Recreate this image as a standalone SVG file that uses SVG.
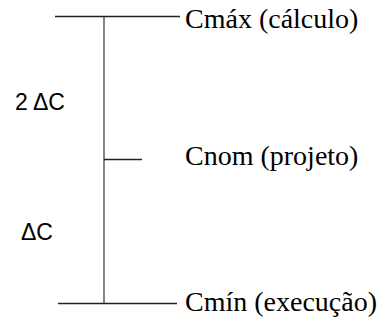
<svg xmlns="http://www.w3.org/2000/svg" width="379" height="322" viewBox="0 0 379 322">
<style>
.h{stroke:#222;stroke-width:1.3;fill:none}
.v{stroke:#666;stroke-width:1.6;fill:none}
.lbl{font-family:"Liberation Serif","Times New Roman",serif;font-size:28px;fill:#000}
.dl{font-family:"Liberation Sans",Arial,sans-serif;font-size:23px;fill:#000}
</style>
<rect width="379" height="322" fill="#fff"/>
<g id="connectors">
<line class="v" x1="104" y1="16.5" x2="104" y2="303.5"/>
<line class="h" x1="55" y1="16.5" x2="180" y2="16.5"/>
<line class="h" x1="104" y1="159.5" x2="142" y2="159.5"/>
<line class="h" x1="58" y1="303.5" x2="177" y2="303.5"/>
</g>
<g id="cmax"><text class="lbl" x="185" y="28">Cmáx (cálculo)</text></g>
<g id="cnom"><text class="lbl" x="185" y="165">Cnom (projeto)</text></g>
<g id="cmin"><text class="lbl" x="185" y="311">Cmín (execução)</text></g>
<g id="d2"><text class="dl" x="15" y="110">2 ΔC</text></g>
<g id="d1"><text class="dl" x="21" y="240">ΔC</text></g>
</svg>
